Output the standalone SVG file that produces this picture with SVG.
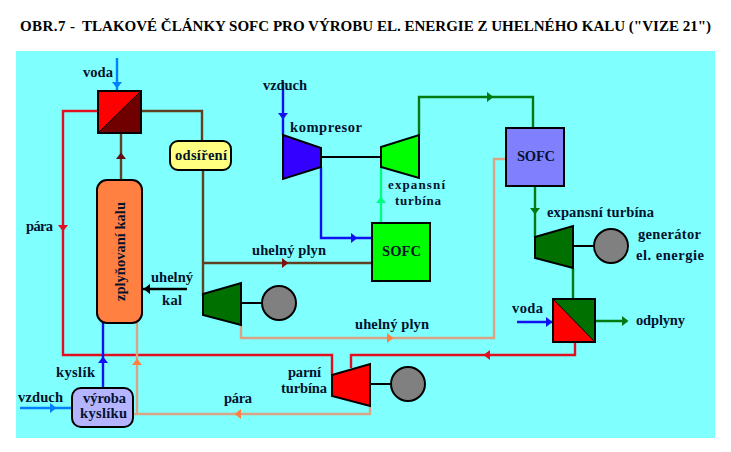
<svg xmlns="http://www.w3.org/2000/svg" width="731" height="452" viewBox="0 0 731 452">
<style>
text{font-family:"Liberation Serif","Times New Roman",serif;font-weight:bold;font-size:14.5px;fill:#04122e}
.t{font-size:15px;fill:#000}
.c{fill:none;stroke-width:2.4}
.n{stroke:#000;stroke-width:2;stroke-linejoin:miter}
.s{stroke:#000;stroke-width:2;fill:none}
.g{fill:#808080;stroke:#000;stroke-width:2}
</style>
<defs><path id="a" d="M-3,-5L3.5,0L-3,5Z"/></defs>
<rect width="731" height="452" fill="#fff"/>
<rect x="16" y="51" width="699" height="387" fill="#80ffff"/>
<text class="t" x="20" y="31" textLength="55" lengthAdjust="spacing">OBR.7 -</text>
<text class="t" x="82" y="31" textLength="629" lengthAdjust="spacing">TLAKOVÉ ČLÁNKY SOFC PRO VÝROBU EL. ENERGIE Z UHELNÉHO KALU ("VIZE 21")</text>
<g id="connectors">
<path class="c" stroke="#0080ff" d="M117,58V91M20,408H72"/>
<path class="c" stroke="#e01020" d="M98,111H63V355H332V375M351,368V355H575V342"/>
<path class="c" stroke="#604020" d="M141,111H202V141M203,170V296M203,263H372M121,180V133"/>
<path class="c" stroke="#000" d="M187,289H143"/>
<path class="c" stroke="#d8a484" d="M241,325V338H494V159H506M137,323V414H370V407M132,414H137"/>
<path class="c" stroke="#1010f0" d="M103,388V323M283,82V135M321,167V238H372M517,322H553"/>
<path class="c" stroke="#00ff80" d="M381,223V167"/>
<path class="c" stroke="#007a10" d="M419,135V97H533V127M535,186V237M573,268V299M595,321H627"/>
<use href="#a" transform="translate(117,85) rotate(90)" fill="#0080ff"/>
<use href="#a" transform="translate(53,408)" fill="#0080ff"/>
<use href="#a" transform="translate(63,228) rotate(90)" fill="#e01020"/>
<use href="#a" transform="translate(487,355) rotate(180)" fill="#e01020"/>
<use href="#a" transform="translate(121,156) rotate(-90)" fill="#601010"/>
<use href="#a" transform="translate(285,263)" fill="#801010"/>
<use href="#a" transform="translate(147,289) rotate(180)" fill="#000"/>
<use href="#a" transform="translate(103,360) rotate(-90)" fill="#1010f0"/>
<use href="#a" transform="translate(283,116) rotate(90)" fill="#1010f0"/>
<use href="#a" transform="translate(354,238)" fill="#1010f0"/>
<use href="#a" transform="translate(549,322)" fill="#1010f0"/>
<use href="#a" transform="translate(137,362) rotate(-90)" fill="#ff8040"/>
<use href="#a" transform="translate(238,414) rotate(180)" fill="#ff8040"/>
<use href="#a" transform="translate(390,338)" fill="#ff8040"/>
<use href="#a" transform="translate(381,200) rotate(-90)" fill="#00ff80"/>
<use href="#a" transform="translate(490,97)" fill="#007a10"/>
<use href="#a" transform="translate(535,211) rotate(90)" fill="#007a10"/>
<use href="#a" transform="translate(625,321)" fill="#007a10"/>
<path class="s" d="M321,157H381M241,303H263M370,384H392M573,246H594"/>
</g>
<g id="vymenik1">
<rect x="98" y="91" width="43" height="42" fill="#ff0000"/>
<path d="M141,91V133H98Z" fill="#700000"/>
<path d="M98,133L141,91" stroke="#000" stroke-width="1" fill="none"/>
<rect class="s" x="98" y="91" width="43" height="42"/>
</g>
<g id="odsireni"><rect class="n" x="170" y="141" width="61" height="29" rx="8" fill="#ffff80"/><text x="175" y="160" textLength="52" lengthAdjust="spacing">odsíření</text></g>
<g id="zplynovani"><rect class="n" x="97" y="180" width="45" height="143" rx="10" fill="#ff8040"/><text transform="translate(125,301) rotate(-90)" textLength="99" lengthAdjust="spacing">zplyňovaní kalu</text></g>
<g id="turbina-kal"><path class="n" d="M203,294L241,283V325L203,315Z" fill="#007000"/></g>
<g id="generator1"><circle class="g" cx="279" cy="303" r="17"/></g>
<g id="kompresor"><path class="n" d="M283,135L321,148V167L283,179Z" fill="#3300ff"/><text x="290" y="132" textLength="72" lengthAdjust="spacing">kompresor</text></g>
<g id="expanzni-turbina1"><path class="n" d="M381,147L419,135V178L381,167Z" fill="#00ff00"/></g>
<g id="sofc1"><rect class="n" x="372" y="223" width="58" height="58" fill="#00ff00"/><text x="382" y="256" textLength="39" lengthAdjust="spacing">SOFC</text></g>
<g id="sofc2"><rect class="n" x="506" y="128" width="58" height="58" fill="#8080ff"/><text x="517" y="161" textLength="38" lengthAdjust="spacing">SOFC</text></g>
<g id="expanzni-turbina2"><path class="n" d="M535,237L573,226V268L535,258Z" fill="#007000"/></g>
<g id="generator2"><circle class="g" cx="611" cy="246" r="17"/></g>
<g id="vymenik2">
<rect x="553" y="299" width="42" height="43" fill="#ff0000"/>
<path d="M553,299H595V342Z" fill="#007000"/>
<path d="M553,299L595,342" stroke="#000" stroke-width="1" fill="none"/>
<rect class="s" x="553" y="299" width="42" height="43"/>
</g>
<g id="parni-turbina"><path class="n" d="M332,375L370,364V406L332,396Z" fill="#ff0000"/></g>
<g id="generator3"><circle class="g" cx="408" cy="384" r="17"/></g>
<g id="vyroba-kysliku"><rect class="n" x="72" y="388" width="61" height="39" rx="9" fill="#b4b4ff"/><text x="83" y="403" textLength="43" lengthAdjust="spacing">výroba</text><text x="80" y="418" textLength="47" lengthAdjust="spacing">kyslíku</text></g>
<g id="labels">
<text x="83" y="77" textLength="30" lengthAdjust="spacing">voda</text>
<text x="26" y="231" textLength="27" lengthAdjust="spacing">pára</text>
<text x="151" y="282" textLength="42" lengthAdjust="spacing">uhelný</text>
<text x="162" y="305" textLength="20" lengthAdjust="spacing">kal</text>
<text x="56" y="377" textLength="39" lengthAdjust="spacing">kyslík</text>
<text x="18" y="402" textLength="45" lengthAdjust="spacing">vzduch</text>
<text x="224" y="403" textLength="28" lengthAdjust="spacing">pára</text>
<text x="263" y="90" textLength="44" lengthAdjust="spacing">vzduch</text>
<text x="388" y="189" textLength="57" lengthAdjust="spacing" style="font-size:13px">expansní</text>
<text x="395" y="204.5" textLength="46" lengthAdjust="spacing" style="font-size:13px">turbína</text>
<text x="252" y="255" textLength="74" lengthAdjust="spacing">uhelný plyn</text>
<text x="547" y="217" textLength="107" lengthAdjust="spacing">expansní turbína</text>
<text x="638" y="239" textLength="63" lengthAdjust="spacing">generátor</text>
<text x="636" y="260" textLength="68" lengthAdjust="spacing">el. energie</text>
<text x="355" y="329" textLength="74" lengthAdjust="spacing">uhelný plyn</text>
<text x="288" y="377" textLength="33" lengthAdjust="spacing">parní</text>
<text x="281" y="393" textLength="46" lengthAdjust="spacing">turbína</text>
<text x="512" y="313" textLength="31" lengthAdjust="spacing">voda</text>
<text x="636" y="325" textLength="49" lengthAdjust="spacing">odplyny</text>
</g>
</svg>
